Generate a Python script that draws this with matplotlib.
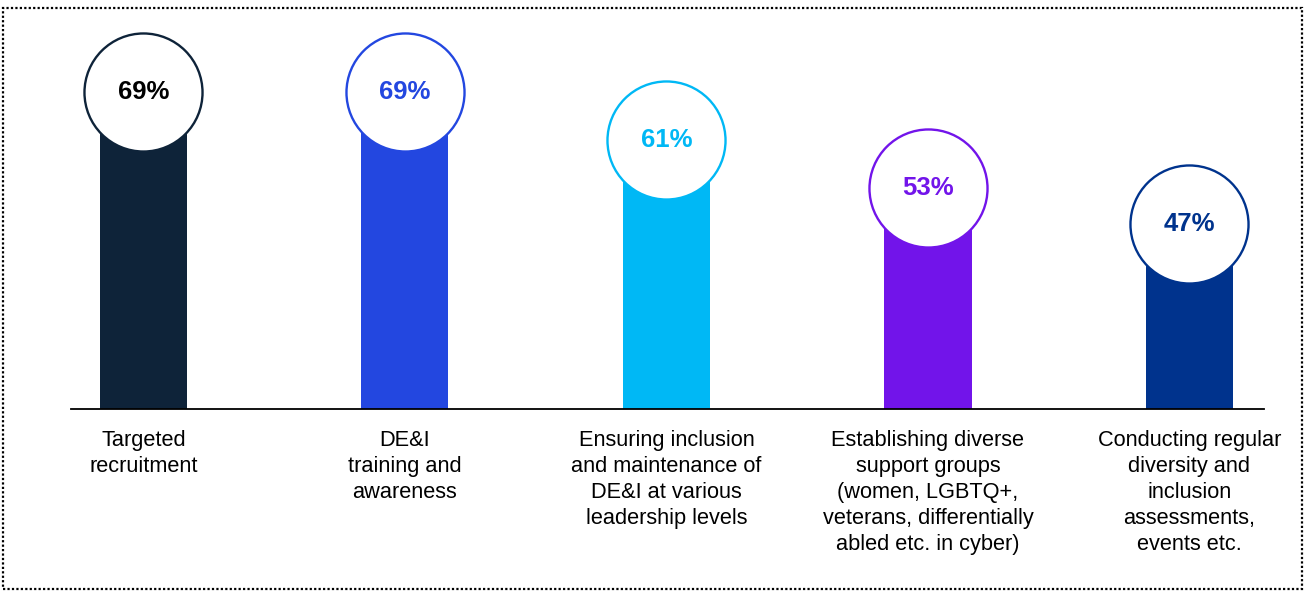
import matplotlib
matplotlib.use("Agg")
import matplotlib.pyplot as plt
from matplotlib.patches import Rectangle

categories = [
    "Targeted\nrecruitment",
    "DE&I\ntraining and\nawareness",
    "Ensuring inclusion\nand maintenance of\nDE&I at various\nleadership levels",
    "Establishing diverse\nsupport groups\n(women, LGBTQ+,\nveterans, differentially\nabled etc. in cyber)",
    "Conducting regular\ndiversity and\ninclusion\nassessments,\nevents etc.",
]
values = [69, 69, 61, 53, 47]
labels = ["69%", "69%", "61%", "53%", "47%"]
bar_colors = ["#0E2339", "#2347E0", "#00B8F5", "#7214EA", "#00338D"]
text_colors = ["#000000", "#2347E0", "#00B8F5", "#7214EA", "#00338D"]

W, H = 1306, 591
dpi = 100
fig = plt.figure(figsize=(W / dpi, H / dpi), dpi=dpi)

# axes in pixel coords
x0, x1 = 71, 1264
ytop, ybase = 20, 409
ax = fig.add_axes([x0 / W, 1 - ybase / H, (x1 - x0) / W, (ybase - ytop) / H])

xs = list(range(len(values)))
ax.bar(xs, values, width=0.333, color=bar_colors, zorder=1)
for x, v, lab, ec, tc in zip(xs, values, labels, bar_colors, text_colors):
    ax.plot([x], [v], marker="o", markersize=85, markerfacecolor="white",
            markeredgecolor=ec, markeredgewidth=1.7, zorder=3, clip_on=False)
    ax.text(x, v, lab, ha="center", va="center", fontsize=18.5, fontweight="bold",
            color=tc, family="Liberation Sans", zorder=4)

ax.set_xlim(-0.277, 4.285)
ax.set_ylim(16.17, 16.17 + (ybase - ytop) / 6.0)
for s in ["top", "right", "left"]:
    ax.spines[s].set_visible(False)
ax.spines["bottom"].set_linewidth(1.3)
ax.spines["bottom"].set_color("#000000")
ax.set_xticks([])
ax.set_yticks([])

# category labels, one line at a time for exact line pitch
first_baseline = 446 - ybase   # px below axis line
pitch = 26
for x, cat in zip(xs, categories):
    for i, line in enumerate(cat.split("\n")):
        ax.annotate(line, xy=(x, 0), xycoords=("data", "axes fraction"),
                    xytext=(0, -(first_baseline + i * pitch)), textcoords="offset pixels",
                    ha="center", va="baseline", fontsize=15.7,
                    family="Liberation Sans", color="#000000")

# dotted border
fig.patches.append(Rectangle((3 / W, 2 / H), (1302 - 3) / W, (589 - 8) / H,
                             transform=fig.transFigure, fill=False,
                             edgecolor="#000000", linestyle=(0, (1, 1)),
                             linewidth=1.6))

fig.savefig("out.png", dpi=dpi)
